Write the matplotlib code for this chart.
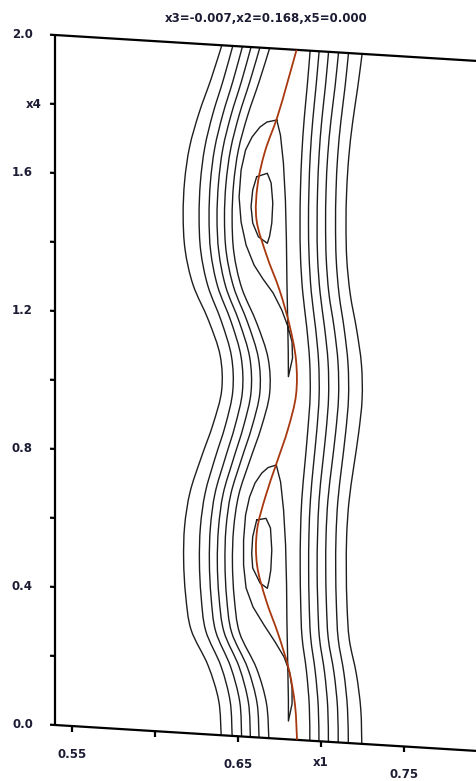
import numpy as np
import matplotlib
matplotlib.use("Agg")
import matplotlib.pyplot as plt
from matplotlib.transforms import Affine2D, offset_copy
from matplotlib.path import Path
from matplotlib.patches import PathPatch

# slice of the response surface
title = "x3=-0.007,x2=0.168,x5=0.000"

x1_range = [0.5397, 0.7933]
x4_range = [0.0, 2.0]
x1_ticks = [0.55, 0.60, 0.65, 0.70, 0.75]
x1_ticklabels = ["0.55", "", "0.65", "x1", "0.75"]
x4_ticks = [0.0, 0.2, 0.4, 0.6, 0.8, 1.0, 1.2, 1.4, 1.6, 1.8, 2.0]
x4_ticklabels = ["0.0", "", "0.4", "", "0.8", "", "1.2", "", "1.6", "x4", "2.0"]

# open contour lines, x1 read at each x4 of the grid
x4_grid = [0.0, 0.1, 0.2, 0.3, 0.4, 0.5, 0.6, 0.7, 0.8, 0.9, 1.0,
           1.1, 1.2, 1.3, 1.4, 1.5, 1.6, 1.7, 1.8, 1.9, 2.0]

left_1 = [0.6398, 0.6383, 0.6319, 0.6217, 0.6184, 0.6172, 0.6178, 0.6211, 0.6277, 0.6349, 0.6401,
          0.6392, 0.6322, 0.6229, 0.6181, 0.6169, 0.6178, 0.6208, 0.6265, 0.6337, 0.6402]
left_2 = [0.6464, 0.6452, 0.6397, 0.6305, 0.6277, 0.6267, 0.6273, 0.6302, 0.6360, 0.6424, 0.6468,
          0.6460, 0.6399, 0.6318, 0.6275, 0.6265, 0.6273, 0.6299, 0.6348, 0.6411, 0.6468]
left_3 = [0.6521, 0.6510, 0.6455, 0.6365, 0.6337, 0.6327, 0.6333, 0.6361, 0.6420, 0.6482, 0.6526,
          0.6518, 0.6458, 0.6377, 0.6335, 0.6325, 0.6333, 0.6359, 0.6408, 0.6470, 0.6526]
left_4 = [0.6574, 0.6562, 0.6507, 0.6415, 0.6385, 0.6375, 0.6382, 0.6410, 0.6470, 0.6533, 0.6578,
          0.6570, 0.6508, 0.6426, 0.6384, 0.6373, 0.6382, 0.6408, 0.6458, 0.6521, 0.6578]
left_5 = [0.6626, 0.6614, 0.6557, 0.6461, 0.6431, 0.6421, 0.6427, 0.6456, 0.6518, 0.6584, 0.6631,
          0.6622, 0.6558, 0.6474, 0.6429, 0.6418, 0.6427, 0.6455, 0.6506, 0.6571, 0.6631]
left_6 = [0.6685, 0.6671, 0.6611, 0.6509, 0.6477, 0.6466, 0.6473, 0.6504, 0.6570, 0.6640, 0.6690,
          0.6681, 0.6613, 0.6522, 0.6475, 0.6464, 0.6473, 0.6502, 0.6557, 0.6626, 0.6690]
valley = [0.6855, 0.6843, 0.6807, 0.6744, 0.6668, 0.6614, 0.6614, 0.6665, 0.6733, 0.6801, 0.6849,
          0.6849, 0.6810, 0.6750, 0.6671, 0.6611, 0.6617, 0.6662, 0.6735, 0.6795, 0.6852]
right_1 = [0.6932, 0.6929, 0.6912, 0.6885, 0.6877, 0.6874, 0.6876, 0.6884, 0.6902, 0.6920, 0.6934,
           0.6931, 0.6913, 0.6889, 0.6876, 0.6873, 0.6876, 0.6884, 0.6898, 0.6917, 0.6934]
right_2 = [0.6987, 0.6983, 0.6965, 0.6937, 0.6928, 0.6925, 0.6927, 0.6936, 0.6954, 0.6974, 0.6988,
           0.6985, 0.6966, 0.6941, 0.6928, 0.6924, 0.6927, 0.6935, 0.6950, 0.6970, 0.6988]
right_3 = [0.7044, 0.7040, 0.7021, 0.6990, 0.6980, 0.6976, 0.6979, 0.6988, 0.7008, 0.7030, 0.7045,
           0.7042, 0.7021, 0.6994, 0.6979, 0.6976, 0.6979, 0.6988, 0.7004, 0.7026, 0.7045]
right_4 = [0.7103, 0.7099, 0.7078, 0.7043, 0.7032, 0.7028, 0.7030, 0.7041, 0.7064, 0.7088, 0.7105,
           0.7102, 0.7079, 0.7047, 0.7031, 0.7027, 0.7030, 0.7040, 0.7059, 0.7084, 0.7105]
right_5 = [0.7164, 0.7159, 0.7138, 0.7103, 0.7092, 0.7088, 0.7090, 0.7101, 0.7124, 0.7148, 0.7165,
           0.7162, 0.7139, 0.7108, 0.7091, 0.7087, 0.7090, 0.7100, 0.7119, 0.7144, 0.7165]
right_6 = [0.7245, 0.7239, 0.7213, 0.7170, 0.7156, 0.7152, 0.7154, 0.7168, 0.7196, 0.7226, 0.7247,
           0.7243, 0.7214, 0.7176, 0.7155, 0.7150, 0.7154, 0.7167, 0.7190, 0.7220, 0.7247]

# closed contours (x1, x4 pairs)
tongue_hi_x1 = [0.6733, 0.6674, 0.6632, 0.6584, 0.6545, 0.6518, 0.6506, 0.6518, 0.6548, 0.6596,
                0.6650, 0.6711, 0.6763, 0.6801, 0.6825, 0.6828, 0.6803, 0.6802, 0.6798, 0.6794,
                0.6791, 0.6785, 0.6773, 0.6755, 0.6733]
tongue_hi_x4 = [1.7931, 1.7856, 1.7699, 1.7395, 1.7006, 1.6418, 1.5632, 1.4911, 1.4254, 1.3688,
                1.3298, 1.2911, 1.2433, 1.1952, 1.1524, 1.1061, 1.0512, 1.1285, 1.2299, 1.3312,
                1.4470, 1.5628, 1.6697, 1.7503, 1.7931]
tongue_lo_x1 = [0.6730, 0.6681, 0.6643, 0.6602, 0.6569, 0.6545, 0.6533, 0.6533, 0.6548, 0.6590,
                0.6656, 0.6723, 0.6777, 0.6810, 0.6825, 0.6825, 0.6803, 0.6803, 0.6798, 0.6794,
                0.6792, 0.6786, 0.6774, 0.6756, 0.6730]
tongue_lo_x4 = [0.7931, 0.7843, 0.7673, 0.7371, 0.6955, 0.6427, 0.5698, 0.4974, 0.4312, 0.3773,
                0.3271, 0.2798, 0.2379, 0.1954, 0.1495, 0.1031, 0.0532, 0.1141, 0.2443, 0.3457,
                0.4471, 0.5628, 0.6639, 0.7446, 0.7931]
ellipse_hi_x1 = [0.6612, 0.6676, 0.6699, 0.6709, 0.6703, 0.6690, 0.6676, 0.6622, 0.6588, 0.6578, 0.6588, 0.6612]
ellipse_hi_x4 = [1.6252, 1.6370, 1.6095, 1.5518, 1.4937, 1.4556, 1.4341, 1.4516, 1.4903, 1.5373, 1.5860, 1.6252]
ellipse_lo_x1 = [0.6612, 0.6668, 0.6695, 0.6703, 0.6697, 0.6686, 0.6676, 0.6632, 0.6588, 0.6582, 0.6588, 0.6612]
ellipse_lo_x4 = [0.6301, 0.6366, 0.6094, 0.5459, 0.4877, 0.4555, 0.4341, 0.4481, 0.4903, 0.5328, 0.5810, 0.6301]


def smooth_path(xs, ys):
    # Catmull-Rom curve through the read points, drawn as cubic Beziers
    p = np.column_stack([xs, ys])
    ext = np.vstack([p[0], p, p[-1]])
    verts = [p[0]]
    codes = [Path.MOVETO]
    for i in range(len(p) - 1):
        p0, p1, p2, p3 = ext[i], ext[i + 1], ext[i + 2], ext[i + 3]
        verts += [p1 + (p2 - p0) / 6, p2 - (p3 - p1) / 6, p2]
        codes += [Path.CURVE4] * 3
    return Path(verts, codes)


fig = plt.figure(figsize=(4.76, 7.81), dpi=100)
ax = fig.add_axes([0, 0, 1, 1])
ax.set_xlim(0, 476)
ax.set_ylim(781, 0)
ax.axis("off")

# oblique view: x1 runs along a tilted floor, x4 straight up
sx, sy, slant = 1660.0, 345.0, 0.0615
ox, oy = 55.0, 725.0
view = Affine2D(np.array([[sx, 0.0, ox - sx * x1_range[0]],
                          [slant * sx, -sy, oy - slant * sx * x1_range[0]],
                          [0.0, 0.0, 1.0]]))
tr = view + ax.transData

ink = "#1e1e1e"
for xs in [left_1, left_2, left_3, left_4, left_5, left_6,
           right_1, right_2, right_3, right_4, right_5, right_6]:
    ax.add_patch(PathPatch(smooth_path(xs, x4_grid), fill=False, edgecolor=ink,
                           lw=1.0, transform=tr))
for xs, ys in [(tongue_hi_x1, tongue_hi_x4), (tongue_lo_x1, tongue_lo_x4),
               (ellipse_hi_x1, ellipse_hi_x4), (ellipse_lo_x1, ellipse_lo_x4)]:
    ax.plot(xs, ys, color=ink, lw=1.0, transform=tr, solid_joinstyle="round")
ax.add_patch(PathPatch(smooth_path(valley, x4_grid), fill=False, edgecolor="#a8380f",
                       lw=1.3, transform=tr, zorder=3))

# frame
frame_kw = dict(color="black", lw=1.6, transform=tr, solid_capstyle="butt")
ax.plot([x1_range[0], x1_range[1]], [x4_range[1], x4_range[1]], **frame_kw)
ax.plot([x1_range[0], x1_range[1]], [x4_range[0], x4_range[0]], **frame_kw)
ax.plot([x1_range[0], x1_range[0]], x4_range, **frame_kw)

txt_kw = dict(fontsize=8.5, fontweight="bold", color="#1c1c34", family="DejaVu Sans")
for v, lab in zip(x4_ticks, x4_ticklabels):
    ax.plot([x1_range[0] - 5 / sx, x1_range[0]], [v, v], **frame_kw)
    if lab:
        dx = -13 if lab == "x4" else -22
        ax.text(x1_range[0], v, lab, ha="right", va="center",
                transform=offset_copy(tr, fig=fig, x=dx, y=0, units="dots"), **txt_kw)
for v, lab in zip(x1_ticks, x1_ticklabels):
    ax.plot([v, v], [0, -6 / sy], **frame_kw)
    if lab:
        dy = -21 if lab == "x1" else -28.5
        ax.text(v, 0, lab, ha="center", va="center",
                transform=offset_copy(tr, fig=fig, x=0, y=dy, units="dots"), **txt_kw)

fig.text(266 / 476, 1 - 19 / 781, title, ha="center", va="center",
         fontsize=8.5, fontweight="bold", color="#1c1c34", family="DejaVu Sans")

fig.savefig("out.png", dpi=100, facecolor="white")
